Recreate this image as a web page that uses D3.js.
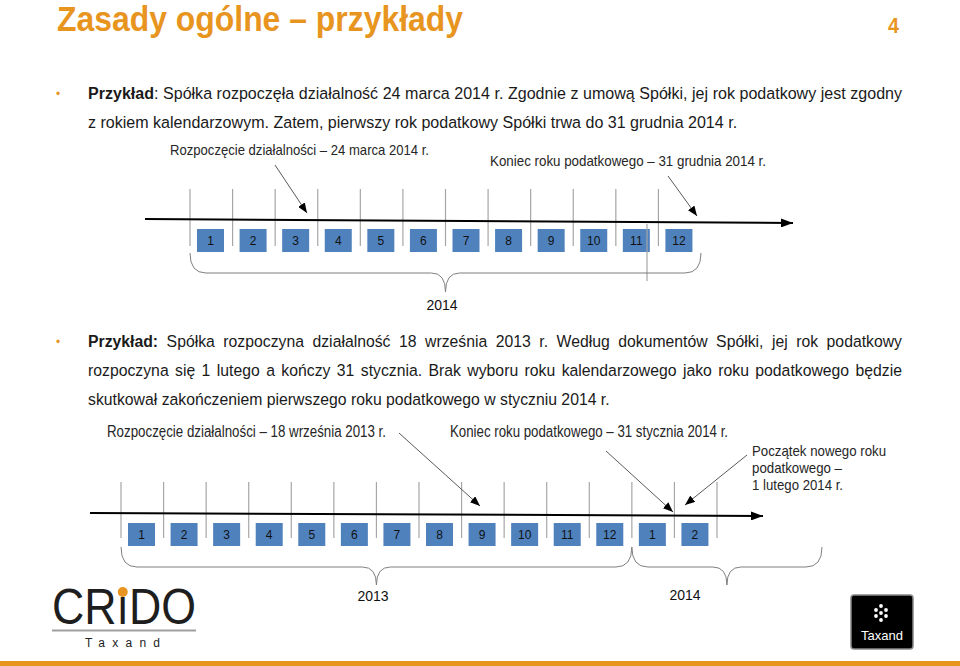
<!DOCTYPE html>
<html><head><meta charset="utf-8">
<script src="https://cdn.jsdelivr.net/npm/d3@7"></script>
<style>
html,body{margin:0;padding:0;background:#fff;}
svg{display:block;}
text{font-family:"Liberation Sans Narrow","Arial Narrow","Liberation Sans",Arial,sans-serif;}
.box{font-family:"Liberation Sans",Arial,sans-serif;}
</style></head>
<body>
<script>
// ---------- data ----------
const title = "Zasady ogólne – przykłady";
const pageNumber = "4";
const para1 = [
  {bold:"Przykład", rest:": Spółka rozpoczęła działalność 24 marca 2014 r. Zgodnie z umową Spółki, jej rok podatkowy jest zgodny"},
  {bold:"", rest:"z rokiem kalendarzowym. Zatem, pierwszy rok podatkowy Spółki trwa do 31 grudnia 2014 r."}
];
const para2 = [
  {bold:"Przykład:", rest:" Spółka rozpoczyna działalność 18 września 2013 r. Według dokumentów Spółki, jej rok podatkowy"},
  {bold:"", rest:"rozpoczyna się 1 lutego a kończy 31 stycznia. Brak wyboru roku kalendarzowego jako roku podatkowego będzie"},
  {bold:"", rest:"skutkował zakończeniem pierwszego roku podatkowego w styczniu 2014 r."}
];
const topMonths = ["1","2","3","4","5","6","7","8","9","10","11","12"];
const topYears = ["2014"];
const bottomMonths = ["1","2","3","4","5","6","7","8","9","10","11","12","1","2"];
const bottomYears = ["2013","2014"];
const topNotes = ["Rozpoczęcie działalności – 24 marca 2014 r.", "Koniec roku podatkowego – 31 grudnia 2014 r."];
const bottomNotes = ["Rozpoczęcie działalności – 18 września 2013 r.", "Koniec roku podatkowego – 31 stycznia 2014 r."];
const bottomNote3 = ["Początek nowego roku", "podatkowego –", "1 lutego 2014 r."];

// ---------- setup ----------
const W = 960, H = 666;
const ORANGE = "#E8951F", BLUE = "#4F81BD", TICK = "#A6A6A6";
const svg = d3.select("body").append("svg").attr("width", W).attr("height", H);

const defs = svg.append("defs");
function marker(id, len, wid){
  defs.append("marker").attr("id", id).attr("viewBox", `0 0 ${len} ${wid}`)
    .attr("refX", len).attr("refY", wid/2).attr("markerWidth", len).attr("markerHeight", wid)
    .attr("markerUnits", "userSpaceOnUse").attr("orient", "auto")
    .append("path").attr("d", `M0,0L${len},${wid/2}L0,${wid}Z`).attr("fill", "#000");
}
marker("axArrow", 12, 9);
marker("noteArrow", 10, 8);

function fit(sel, w){ return sel.attr("textLength", w).attr("lengthAdjust", "spacingAndGlyphs"); }

// ---------- header ----------
fit(svg.append("text").attr("x", 57).attr("y", 31).attr("font-size", 35).attr("font-weight", "bold")
  .attr("fill", ORANGE).text(title), 406);
fit(svg.append("text").attr("x", 888).attr("y", 33).attr("font-size", 22).attr("font-weight", "bold")
  .attr("fill", ORANGE).text(pageNumber), 11);

// ---------- paragraphs (condensed by a horizontal scale, justified by word spacing) ----------
function para(lines, x, ys, widths, size, justify){
  const last = lines.length - 1;
  const probe = svg.append("text").attr("font-size", size).text(lines[last].bold + lines[last].rest);
  const s = widths[last] / probe.node().getComputedTextLength();
  probe.remove();
  lines.forEach((l, i) => {
    const g = svg.append("g").attr("transform", `translate(${x},${ys[i]}) scale(${s},1)`);
    const t = g.append("text").attr("x", 0).attr("y", 0).attr("font-size", size).attr("fill", "#1a1a1a");
    if (l.bold) t.append("tspan").attr("font-weight", "bold").text(l.bold);
    t.append("tspan").text(l.rest);
    if (justify[i]) {
      const nat = t.node().getComputedTextLength();
      const spaces = ((l.bold + l.rest).match(/ /g) || []).length;
      t.style("word-spacing", ((widths[i] / s - nat) / spaces) + "px");
    }
  });
  svg.append("text").attr("x", 56).attr("y", ys[0] - 1).attr("font-size", 12).attr("fill", ORANGE)
    .attr("font-family", "Liberation Sans").text("•");
}
para(para1, 88, [99, 128], [814, 650], 17, [true, false]);
para(para2, 88, [347, 376, 405], [814, 814, 522], 17, [true, true, false]);

// ---------- timeline helper ----------
function timeline(months, x0, x1, axis, tickY, boxY, endTick){
  const x = d3.scaleBand().domain(d3.range(months.length)).range([x0, x1]);
  const g = svg.append("g");
  const ticks = d3.range(months.length + (endTick ? 1 : 0)).map(i => i < months.length ? x(i) : x1);
  g.selectAll("line.tick").data(ticks).join("line").attr("class", "tick")
    .attr("x1", d => d).attr("x2", d => d).attr("y1", tickY[0]).attr("y2", tickY[1])
    .attr("stroke", TICK).attr("stroke-width", 1.2);
  g.append("line").attr("x1", axis[0]).attr("y1", axis[1]).attr("x2", axis[2]).attr("y2", axis[3])
    .attr("stroke", "#000").attr("stroke-width", 2).attr("marker-end", "url(#axArrow)");
  const bw = 27, off = 7;
  g.selectAll("rect.box").data(months).join("rect").attr("class", "box")
    .attr("x", (d, i) => x(i) + off).attr("y", boxY).attr("width", bw).attr("height", 23).attr("fill", BLUE);
  g.selectAll("text.box").data(months).join("text").attr("class", "box")
    .attr("x", (d, i) => x(i) + off + bw / 2).attr("y", boxY + 16).attr("text-anchor", "middle")
    .attr("font-size", 12).attr("fill", "#111").text(d => d);
  return x;
}
function brace(xa, xb, xm, y0, y1, y2){
  const r = 16, r2 = 14;
  const d = `M${xa},${y0} Q${xa},${y1} ${xa + r},${y1} L${xm - r2},${y1} Q${xm},${y1} ${xm},${y2}` +
            ` Q${xm},${y1} ${xm + r2},${y1} L${xb - r},${y1} Q${xb},${y1} ${xb},${y0}`;
  svg.append("path").attr("d", d).attr("fill", "none").attr("stroke", "#7f7f7f").attr("stroke-width", 1);
}
function note(txt, x, y, w, size){
  fit(svg.append("text").attr("x", x).attr("y", y).attr("font-size", size).attr("fill", "#262626").text(txt), w);
}
function arrow(a, b, c, d){
  svg.append("line").attr("x1", a).attr("y1", b).attr("x2", c).attr("y2", d)
    .attr("stroke", "#595959").attr("stroke-width", 1).attr("marker-end", "url(#noteArrow)");
}

// ---------- top timeline ----------
const xt = timeline(topMonths, 190, 701, [145, 219, 793, 223], [189, 246], 229, false);
svg.append("line").attr("x1", 647).attr("x2", 647).attr("y1", 224).attr("y2", 281).attr("stroke", TICK).attr("stroke-width", 1.2);
brace(xt.range()[0], xt.range()[1], (xt.range()[0] + xt.range()[1]) / 2, 253, 273, 292);
svg.append("text").attr("x", 442).attr("y", 310).attr("text-anchor", "middle").attr("font-size", 14)
  .attr("fill", "#111").text(topYears[0]);
note(topNotes[0], 170, 155, 259, 15);
note(topNotes[1], 490, 166, 276, 15);
arrow(275, 165, 307, 213);
arrow(668, 176, 697, 216);

// ---------- bottom timeline ----------
const xb = timeline(bottomMonths, 121, 717, [90, 513, 763, 516], [482, 538], 523, true);
brace(xb(0), xb(12), (xb(0) + xb(12)) / 2, 547, 567, 585);
brace(xb(12), 822, (xb(12) + 822) / 2, 547, 567, 585);
svg.append("text").attr("x", 373).attr("y", 601).attr("text-anchor", "middle").attr("font-size", 14)
  .attr("fill", "#111").text(bottomYears[0]);
svg.append("text").attr("x", 685).attr("y", 600).attr("text-anchor", "middle").attr("font-size", 14)
  .attr("fill", "#111").text(bottomYears[1]);
note(bottomNotes[0], 107, 437, 279, 16);
note(bottomNotes[1], 450, 437, 278, 16);
note(bottomNote3[0], 752, 456, 134, 15);
note(bottomNote3[1], 752, 473, 90, 15);
note(bottomNote3[2], 752, 490, 91, 15);
arrow(399, 433, 480, 506);
arrow(606, 451, 673, 512);
arrow(747, 455, 685, 505);

// ---------- logos ----------
const lf = "Liberation Sans";
const logo = svg.append("text").attr("x", 52).attr("y", 624).attr("font-size", 50).attr("font-family", lf)
  .attr("fill", "#1e1e1e").attr("textLength", 144).attr("lengthAdjust", "spacingAndGlyphs").text("CRıDO");
(function(){
  const n = logo.node();
  const ex = n.getExtentOfChar(2);
  svg.append("circle").attr("cx", ex.x + ex.width / 2).attr("cy", 592).attr("r", 5).attr("fill", ORANGE);
})();
svg.append("line").attr("x1", 52).attr("x2", 196).attr("y1", 630.5).attr("y2", 630.5).attr("stroke", "#a0a0a0").attr("stroke-width", 2);
svg.append("text").attr("x", 85).attr("y", 647).attr("font-size", 12).attr("font-family", lf).attr("fill", "#222")
  .attr("textLength", 75).attr("lengthAdjust", "spacing").text("Taxand");

svg.append("rect").attr("x", 851).attr("y", 595).attr("width", 62).attr("height", 54).attr("rx", 3)
  .attr("fill", "#000").attr("stroke", "#888").attr("stroke-width", 1.5);
const dots = [[0,-8],[-5,-4],[5,-4],[-5,2],[5,2],[0,6],[0,-1]];
svg.selectAll("circle.dot").data(dots).join("circle").attr("class", "dot")
  .attr("cx", d => 881 + d[0]).attr("cy", d => 614 + d[1]).attr("r", 1.9).attr("fill", "#fff");
svg.append("text").attr("x", 882).attr("y", 640).attr("text-anchor", "middle").attr("font-size", 13)
  .attr("font-family", lf).attr("fill", "#fff").text("Taxand");

svg.append("rect").attr("x", 0).attr("y", 661).attr("width", W).attr("height", 5).attr("fill", ORANGE);
</script>
</body></html>
